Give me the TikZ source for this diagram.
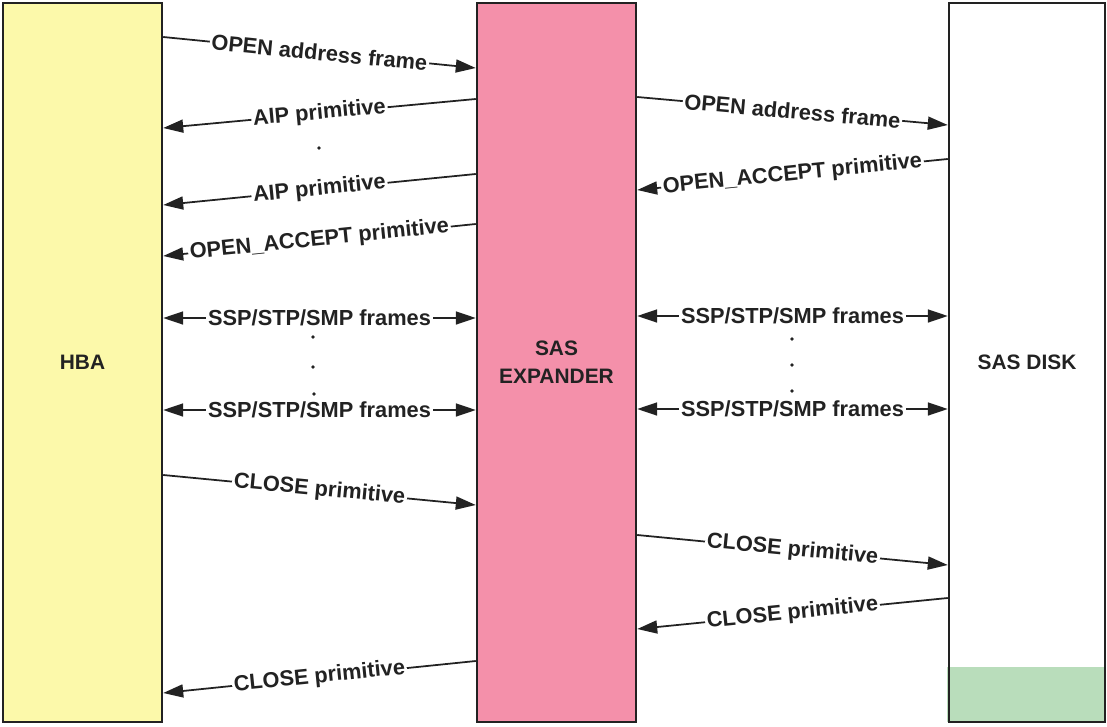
\documentclass[tikz,border=0pt]{standalone}
\usepackage{fontspec}
\setmainfont{Liberation Sans}
\usetikzlibrary{arrows.meta}
\definecolor{hbayellow}{RGB}{252,249,170}
\definecolor{exppink}{RGB}{244,144,170}
\definecolor{diskgreen}{RGB}{185,221,187}
\definecolor{ink}{RGB}{34,34,34}
\tikzset{
  unit/.style={draw=ink, line width=1.4pt, minimum width=3.18cm, minimum height=14.38cm,
    inner sep=0pt, align=center, font=\bfseries\fontsize{11.9}{16}\selectfont, text=ink},
  msg/.style={draw=ink, line width=1pt, -{Triangle[length=0.4cm,width=0.26cm]}},
  bimsg/.style={draw=ink, line width=1pt, {Triangle[length=0.4cm,width=0.26cm]}-{Triangle[length=0.4cm,width=0.26cm]}},
  lbl/.style={midway, sloped, fill=white, inner sep=1pt, text=ink,
    font=\bfseries\fontsize{12.4}{14}\selectfont},
  gapdot/.style={circle, fill=ink, inner sep=0pt, minimum size=2.2pt}
}
\begin{document}
\begin{tikzpicture}[x=0.02cm, y=-0.02cm]
\useasboundingbox (0,0) rectangle (1107,727);

% the three units
\node[unit, fill=hbayellow] (hba) at (82.5,362.5) {HBA};
\node[unit, fill=exppink] (exp) at (556.5,362.5) {SAS\\EXPANDER};
\fill[diskgreen] (947,667) rectangle (1105,722);
\node[unit, minimum width=3.12cm] (disk) at (1027,362.5) {SAS DISK};

% HBA <-> expander
\draw[msg] (hba.east |- 0,37) -- node[lbl] {OPEN address frame} (exp.west |- 0,68);
\draw[msg] (exp.west |- 0,99) -- node[lbl] {AIP primitive} (hba.east |- 0,128);
\node[gapdot] (d0) at (319,148) {};
\draw[msg] (exp.west |- 0,174) -- node[lbl] {AIP primitive} (hba.east |- 0,205);
\draw[msg] (exp.west |- 0,224) -- node[lbl] {OPEN\_ACCEPT primitive} (hba.east |- 0,256);
\draw[bimsg] (hba.east |- 0,318) -- node[lbl] {SSP/STP/SMP frames} (exp.west |- 0,318);
\node[gapdot] (d1) at (313,337) {};
\node[gapdot] (d2) at (313,367) {};
\node[gapdot] (d3) at (314,394) {};
\draw[bimsg] (hba.east |- 0,410) -- node[lbl] {SSP/STP/SMP frames} (exp.west |- 0,410);
\draw[msg] (hba.east |- 0,475) -- node[lbl] {CLOSE primitive} (exp.west |- 0,505);
\draw[msg] (exp.west |- 0,661) -- node[lbl] {CLOSE primitive} (hba.east |- 0,693);

% expander <-> disk
\draw[msg] (exp.east |- 0,97) -- node[lbl] {OPEN address frame} (disk.west |- 0,125);
\draw[msg] (disk.west |- 0,159) -- node[lbl] {OPEN\_ACCEPT primitive} (exp.east |- 0,190);
\draw[bimsg] (exp.east |- 0,316) -- node[lbl] {SSP/STP/SMP frames} (disk.west |- 0,316);
\node[gapdot] (d4) at (792,339) {};
\node[gapdot] (d5) at (792,365) {};
\node[gapdot] (d6) at (792,391) {};
\draw[bimsg] (exp.east |- 0,409) -- node[lbl] {SSP/STP/SMP frames} (disk.west |- 0,409);
\draw[msg] (exp.east |- 0,535) -- node[lbl] {CLOSE primitive} (disk.west |- 0,565);
\draw[msg] (disk.west |- 0,598) -- node[lbl] {CLOSE primitive} (exp.east |- 0,629);
\end{tikzpicture}
\end{document}
